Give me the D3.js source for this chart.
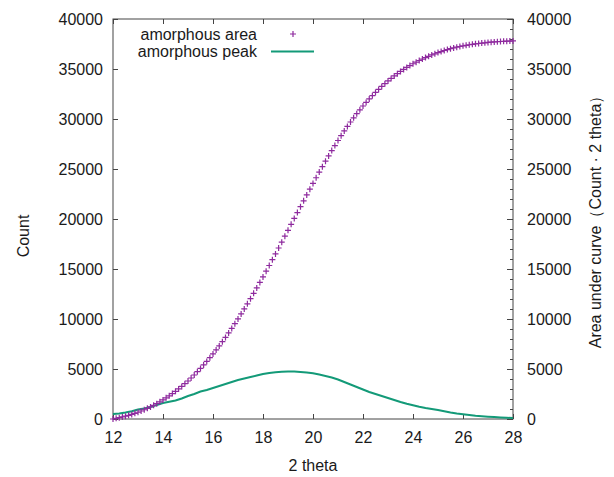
<!DOCTYPE html>
<html><head><meta charset="utf-8">
<script src="https://cdn.jsdelivr.net/npm/d3@7"></script>
<style>body{margin:0;background:#fff}svg{display:block}</style>
</head><body><svg id="c" width="614" height="477"></svg>
<script>
const thetaPeak=[12,12.25,12.5,12.75,13,13.25,13.5,13.75,14,14.25,14.5,14.75,15,15.25,15.5,15.75,16,16.25,16.5,16.75,17,17.25,17.5,17.75,18,18.25,18.5,18.75,19,19.25,19.5,19.75,20,20.25,20.5,20.75,21,21.25,21.5,21.75,22,22.25,22.5,22.75,23,23.25,23.5,23.75,24,24.25,24.5,24.75,25,25.25,25.5,25.75,26,26.25,26.5,26.75,27,27.25,27.5,27.75,28];
const countPeak=[500,560,640,780,950,1050,1200,1400,1600,1720,1850,2050,2300,2500,2750,2900,3100,3300,3500,3700,3900,4050,4200,4350,4500,4600,4680,4730,4750,4740,4700,4650,4580,4450,4300,4150,3950,3700,3450,3200,2950,2700,2500,2300,2100,1900,1700,1520,1380,1230,1100,1000,900,780,660,560,480,400,330,280,230,190,150,120,100];
const thetaArea=[12,12.125,12.25,12.375,12.5,12.625,12.75,12.875,13,13.125,13.25,13.375,13.5,13.625,13.75,13.875,14,14.125,14.25,14.375,14.5,14.625,14.75,14.875,15,15.125,15.25,15.375,15.5,15.625,15.75,15.875,16,16.125,16.25,16.375,16.5,16.625,16.75,16.875,17,17.125,17.25,17.375,17.5,17.625,17.75,17.875,18,18.125,18.25,18.375,18.5,18.625,18.75,18.875,19,19.125,19.25,19.375,19.5,19.625,19.75,19.875,20,20.125,20.25,20.375,20.5,20.625,20.75,20.875,21,21.125,21.25,21.375,21.5,21.625,21.75,21.875,22,22.125,22.25,22.375,22.5,22.625,22.75,22.875,23,23.125,23.25,23.375,23.5,23.625,23.75,23.875,24,24.125,24.25,24.375,24.5,24.625,24.75,24.875,25,25.125,25.25,25.375,25.5,25.625,25.75,25.875,26,26.125,26.25,26.375,26.5,26.625,26.75,26.875,27,27.125,27.25,27.375,27.5,27.625,27.75,27.875,28];
const areaValues=[0,66,133,208,283,371,460,568,676,801,926,1066,1207,1370,1532,1720,1907,2114,2322,2545,2768,3012,3256,3528,3800,4100,4400,4728,5056,5409,5762,6137,6512,6912,7312,7737,8162,8612,9062,9537,10012,10509,11006,11521,12037,12571,13106,13659,14212,14781,15350,15930,16510,17098,17686,18278,18871,19464,20057,20647,21237,21821,22406,22983,23560,24124,24689,25236,25783,26311,26839,27345,27852,28330,28808,29255,29702,30117,30533,30917,31302,31655,32008,32333,32658,32958,33258,33533,33808,34058,34308,34533,34758,34959,35161,35342,35523,35686,35849,35994,36140,36271,36403,36521,36640,36745,36850,36940,37030,37106,37183,37248,37313,37368,37423,37468,37514,37552,37590,37622,37654,37680,37706,37727,37749,37766,37783,37796,37810];
const xTicks=[12,14,16,18,20,22,24,26,28];
const yTicks=[0,5000,10000,15000,20000,25000,30000,35000,40000];
const y2Minor=[1000,2000,3000,4000,6000,7000,8000,9000,11000,12000,13000,14000,16000,17000,18000,19000,21000,22000,23000,24000,26000,27000,28000,29000,31000,32000,33000,34000,36000,37000,38000,39000];
const seriesNames=["amorphous area","amorphous peak"];
const xLabel="2 theta", yLabel="Count", y2Label="Area under curve（Count · 2 theta）";

const L=113,R=513,T=19,B=419;
const FONT='"Liberation Sans", Arial, sans-serif';
const purple="#8e2a9e", teal="#139a78", axisCol="#444", txt="#1a1a1a";
const svg=d3.select("#c");
svg.append("rect").attr("width",614).attr("height",477).attr("fill","#fff");
const x=d3.scaleLinear().domain([12,28]).range([L,R]);
const y=d3.scaleLinear().domain([0,40000]).range([B,T]);
const y2=d3.scaleLinear().domain([0,40000]).range([B,T]);

function style(g){
  g.selectAll("path.domain").remove();
  g.selectAll("line").attr("stroke",axisCol);
  g.selectAll("text").attr("font-family",FONT).attr("font-size",16).attr("fill",txt);
}
svg.append("g").attr("transform",`translate(0,${B})`)
  .call(d3.axisBottom(x).tickValues(xTicks).tickSizeInner(-5).tickSizeOuter(0).tickPadding(13).tickFormat(d3.format("d"))).call(style);
svg.append("g").attr("transform",`translate(0,${T})`)
  .call(d3.axisTop(x).tickValues(xTicks).tickSizeInner(-5).tickSizeOuter(0).tickFormat("")).call(style);
svg.append("g").attr("transform",`translate(${L},0)`)
  .call(d3.axisLeft(y).tickValues(yTicks).tickSizeInner(-5).tickSizeOuter(0).tickPadding(10).tickFormat(d3.format("d"))).call(style);
svg.append("g").attr("transform",`translate(${R},0)`)
  .call(d3.axisRight(y2).tickValues(yTicks).tickSizeInner(-6).tickSizeOuter(0).tickPadding(14).tickFormat(d3.format("d"))).call(style);
svg.append("g").attr("transform",`translate(${R},0)`)
  .call(d3.axisRight(y2).tickValues(y2Minor).tickSizeInner(-3).tickSizeOuter(0).tickFormat("")).call(style);

svg.append("rect").attr("x",L).attr("y",T).attr("width",R-L).attr("height",B-T)
  .attr("fill","none").attr("stroke",axisCol).attr("stroke-width",1);

// peak line
const peakData=thetaPeak.map((t,i)=>[t,countPeak[i]]);
svg.append("path").datum(peakData)
  .attr("d",d3.line().x(d=>x(d[0])).y(d=>y(d[1])))
  .attr("fill","none").attr("stroke",teal).attr("stroke-width",2);

// area points
const areaData=thetaArea.map((t,i)=>[t,areaValues[i]]);
svg.append("g").selectAll("path").data(areaData).join("path")
  .attr("transform",d=>`translate(${x(d[0])},${y2(d[1])})`)
  .attr("d","M-3,0H3M0,-3V3").attr("stroke",purple).attr("stroke-width",1.2).attr("fill","none");

// legend
const lg=svg.append("g");
lg.append("text").attr("x",257).attr("y",40).attr("text-anchor","end").text(seriesNames[0]);
lg.append("path").attr("transform","translate(293,34)").attr("d","M-3,0H3M0,-3V3").attr("stroke",purple).attr("stroke-width",1.2);
lg.append("text").attr("x",257).attr("y",57).attr("text-anchor","end").text(seriesNames[1]);
lg.append("line").attr("x1",271).attr("x2",314).attr("y1",51.5).attr("y2",51.5).attr("stroke",teal).attr("stroke-width",2);
lg.selectAll("text").attr("font-family",FONT).attr("font-size",16).attr("fill",txt);

// axis labels
svg.append("text").attr("x",(L+R)/2).attr("y",471).attr("text-anchor","middle").text(xLabel)
  .attr("font-family",FONT).attr("font-size",16).attr("fill",txt);
svg.append("text").attr("transform","translate(29,236) rotate(-90)").attr("text-anchor","middle").text(yLabel)
  .attr("font-family",FONT).attr("font-size",16).attr("fill",txt);
svg.append("text").attr("transform","translate(601,218) rotate(-90)").attr("text-anchor","middle").text(y2Label)
  .attr("font-family",FONT).attr("font-size",16).attr("fill",txt);
</script></body></html>
